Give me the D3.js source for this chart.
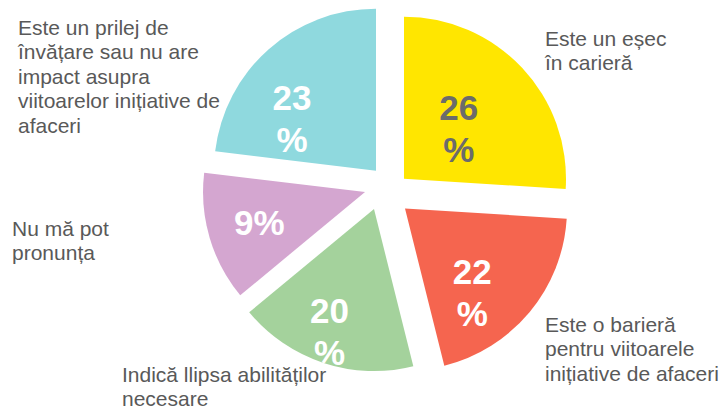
<!DOCTYPE html>
<meta charset="utf-8">
<script src="https://d3js.org/d3.v7.min.js"></script>
<style>
  body { margin: 0; background: #fff; }
  text { font-family: "Liberation Sans", Arial, sans-serif; }
</style>
<div id="chart"></div>
<script>
    // categories, clockwise from 12 o'clock
    var categories = [
        "Este un eșec în carieră",
        "Este o barieră pentru viitoarele inițiative de afaceri",
        "Indică llipsa abilităților necesare",
        "Nu mă pot pronunța",
        "Este un prilej de învățare sau nu are impact asupra viitoarelor inițiative de afaceri"
    ];
    // percentages printed on the slices
    var values = [26, 22, 20, 9, 23];
    // slice sizes as actually drawn in the picture (% of the circle)
    var shares = [26.0, 20.1, 17.9, 12.9, 23.1];
    // label text as it is wrapped in the picture
    var valueLines = [["26", "%"], ["22", "%"], ["20", "%"], ["9%"], ["23", "%"]];
    var categoryLines = [
        ["Este un eșec", "în carieră"],
        ["Este o barieră", "pentru viitoarele", "inițiative de afaceri"],
        ["Indică llipsa abilităților", "necesare"],
        ["Nu mă pot", "pronunța"],
        ["Este un prilej de", "învățare sau nu are", "impact asupra", "viitoarelor inițiative de", "afaceri"]
    ];

    var colors = ["#ffe600", "#f5654f", "#a4d29c", "#d4a6d0", "#8fd9de"];
    var valueColors = ["#6b6b6b", "#fff", "#fff", "#fff", "#fff"];

    var width = 721, height = 408;
    var cx = 385.6, cy = 188.2, radius = 162;
    // how far each slice is pulled out: [distance, direction in degrees]
    var explode = [[20.7, 62.7], [28.1, 136.3], [23.8, 209.1], [20.9, 259.5], [20.0, 331.3]];
    // value label position from the slice tip: [distance, angle in degrees]
    var valuePos = [[75, 47], [107, 141], [130, 200], [110, 254], [99, 302]];
    // category label boxes: left x, first baseline
    var catPos = [[545, 46], [545, 332], [122, 382], [12, 236], [18, 35]];
    var lineH = 24.4, valueLineH = 42;

    function polar(r, deg) {
        var a = deg * Math.PI / 180;
        return [r * Math.sin(a), -r * Math.cos(a)];
    }

    var svg = d3.select("#chart")
      .append("svg")
        .attr("width", width)
        .attr("height", height);

    var pie = d3.pie().sort(null).value(function(d) { return d; });
    var arc = d3.arc().innerRadius(0).outerRadius(radius);
    var arcs = pie(shares);

    var slices = svg.selectAll(".slice")
        .data(arcs)
        .enter()
        .append("g")
        .attr("class", "slice")
        .attr("transform", function(d, i) {
            var p = polar(explode[i][0], explode[i][1]);
            return "translate(" + (cx + p[0]) + "," + (cy + p[1]) + ")";
        });

    // the value text is only seen inside its own slice
    slices.append("clipPath")
        .attr("id", function(d, i) { return "clip" + i; })
      .append("path")
        .attr("d", arc);

    slices.append("path")
        .attr("d", arc)
        .attr("fill", function(d, i) { return colors[i]; });

    // percentage labels
    slices.each(function(d, i) {
        var g = d3.select(this);
        var p = polar(valuePos[i][0], valuePos[i][1]);
        var lines = valueLines[i];
        var t = g.append("text")
            .attr("clip-path", "url(#clip" + i + ")")
            .attr("text-anchor", "middle")
            .attr("font-size", 35)
            .attr("font-weight", "bold")
            .attr("fill", valueColors[i]);
        lines.forEach(function(s, k) {
            var off = (k - (lines.length - 1) / 2) * valueLineH + 13;
            t.append("tspan").attr("x", p[0]).attr("y", p[1] + off).text(s);
        });
    });

    // category labels
    categoryLines.forEach(function(lines, i) {
        var t = svg.append("text")
            .attr("font-size", 21)
            .attr("fill", "#595959");
        lines.forEach(function(s, k) {
            t.append("tspan")
                .attr("x", catPos[i][0])
                .attr("y", catPos[i][1] + k * lineH)
                .text(s);
        });
    });
</script>
